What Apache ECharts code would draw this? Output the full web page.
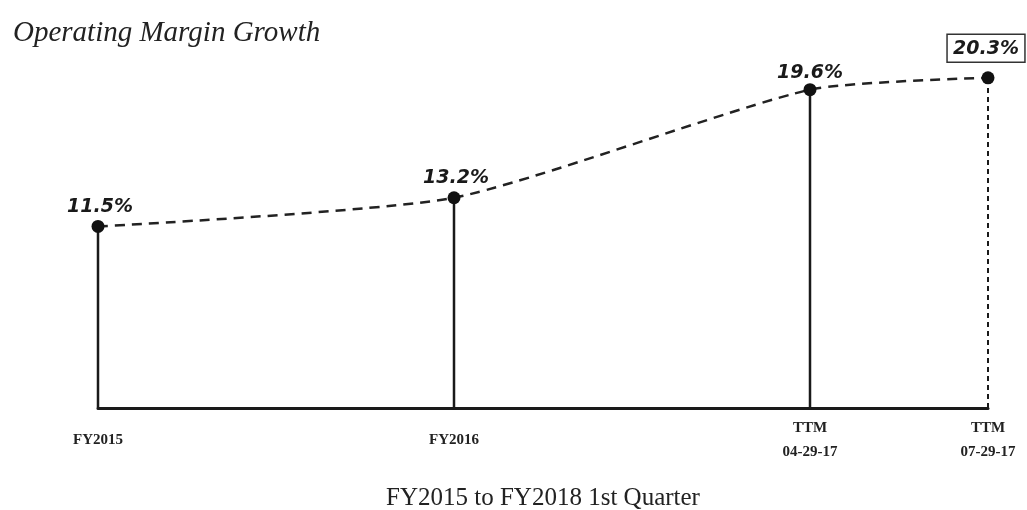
<!DOCTYPE html>
<html>
<head>
<meta charset="utf-8">
<script src="https://cdn.jsdelivr.net/npm/echarts@6/dist/echarts.min.js"></script>
<style>
  html, body { margin: 0; padding: 0; background: #fff; }
  #chart { width: 1027px; height: 510px; }
</style>
</head>
<body>
<div id="chart"></div>
<script>
// periods placed on a time-like x scale (last one is a quarter later)
var positions = [0, 1, 2, 2.5]
var tickLabels = ['FY2015', 'FY2016', 'TTM\n04-29-17', 'TTM\n07-29-17']
var margins = [11.5, 13.2, 19.6, 20.3]
var yMin = 0.75
var yMax = 21

var myChart = echarts.init(document.getElementById('chart'))

var points = positions.map(function (x, i) { return [x, margins[i]] })

// vertical drop lines from axis to each point
var dropSeries = positions.map(function (x, i) {
  var last = i === positions.length - 1
  return {
    type: 'line',
    data: [[x, yMin], [x, margins[i]]],
    symbol: 'none',
    silent: true,
    lineStyle: { color: '#1a1a1a', width: last ? 2 : 2.5, type: last ? [5, 4] : 'solid' },
    z: 1
  }
})

var labelOffsets = [[2, 5], [2, 4], [0, 7], [-2, -1]]

var option = {
  backgroundColor: '#fff',
  animation: false,
  title: {
    text: 'Operating Margin Growth',
    left: 8,
    top: 14,
    textStyle: {
      fontFamily: 'Liberation Serif',
      fontStyle: 'italic',
      fontWeight: 'normal',
      fontSize: 29,
      color: '#222'
    }
  },
  grid: { left: 98, right: 39, top: 66, bottom: 102, outerBoundsMode: 'none', containLabel: false },
  xAxis: {
    type: 'value',
    min: 0,
    max: 2.5,
    name: 'FY2015 to FY2018 1st Quarter',
    nameLocation: 'middle',
    nameGap: 78,
    nameTextStyle: { fontFamily: 'Liberation Serif', fontSize: 25, color: '#222' },
    splitLine: { show: false },
    axisTick: { show: false },
    axisLine: { lineStyle: { color: '#1a1a1a', width: 3 } },
    axisLabel: {
      customValues: positions,
      margin: 32,
      verticalAlign: 'middle',
      fontFamily: 'Liberation Serif',
      fontWeight: 'bold',
      fontSize: 15,
      lineHeight: 24,
      color: '#222',
      formatter: function (v) {
        var i = positions.indexOf(v)
        return i >= 0 ? tickLabels[i] : ''
      }
    }
  },
  yAxis: {
    type: 'value',
    min: yMin,
    max: yMax,
    show: false
  },
  series: dropSeries.concat([{
    name: 'Operating Margin',
    type: 'line',
    smooth: 0.2,
    data: points.map(function (p, i) {
      var last = i === points.length - 1
      return {
        value: p,
        label: {
          offset: labelOffsets[i],
          borderColor: last ? '#333' : 'transparent',
          borderWidth: last ? 1.5 : 0,
          padding: last ? [5, 6, 4, 6] : 0
        }
      }
    }),
    symbol: 'circle',
    symbolSize: 13,
    itemStyle: { color: '#111' },
    lineStyle: { color: '#222', width: 2.5, type: [10, 7] },
    label: {
      show: true,
      position: 'top',
      distance: 8,
      fontFamily: 'DejaVu Sans',
      fontStyle: 'italic',
      fontWeight: 'bold',
      fontSize: 19,
      color: '#1a1a1a',
      formatter: function (p) { return p.value[1].toFixed(1) + '%' }
    },
    z: 3
  }])
}

myChart.setOption(option)
</script>
</body>
</html>
